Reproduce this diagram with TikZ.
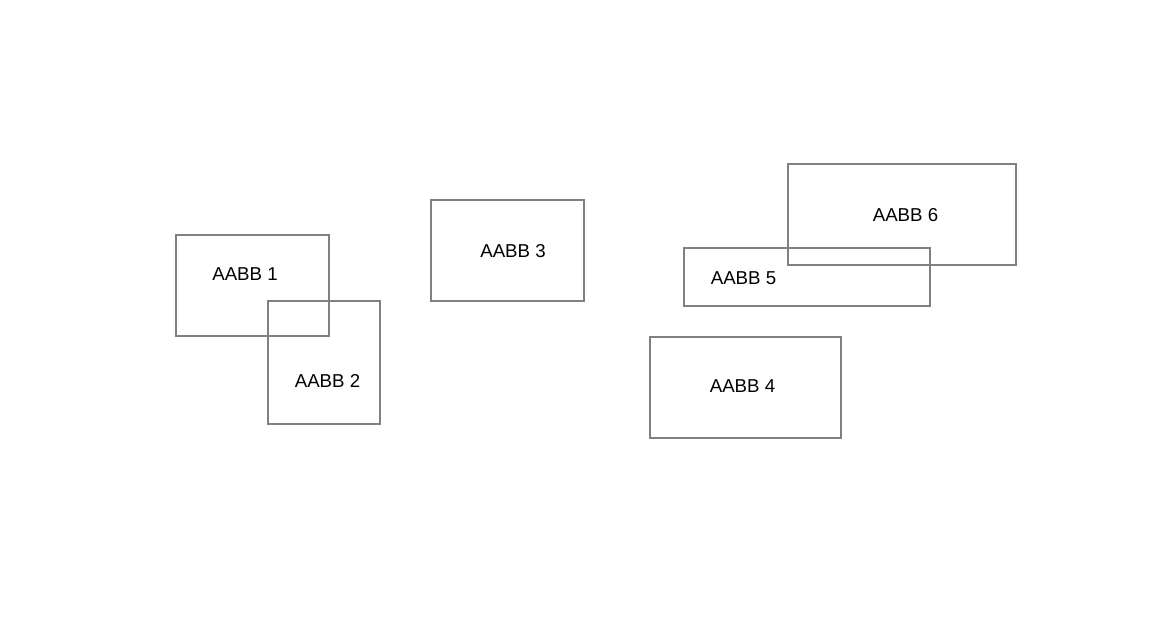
\documentclass[tikz,border=0pt]{standalone}
\usepackage{fontspec}
\setmainfont{Liberation Sans}
\usepackage{tikz}
\definecolor{boxgray}{HTML}{808080}
\tikzstyle{aabb} = [draw=boxgray, line width=1.5pt]
\tikzstyle{tag} = [inner sep=0pt, font=\fontsize{14}{16}\selectfont]

\begin{document}
\begin{tikzpicture}[x=0.75pt, y=-0.75pt]
				\useasboundingbox (0,0) rectangle (1165,630);
				% boxes
				\draw [aabb] (176,235) rectangle (329,336.5);
				\draw [aabb] (267.5,301.5) rectangle (380,424.5);
				\draw [aabb] (431,200) rectangle (584,301.5);
				\draw [aabb] (650,337) rectangle (841,438.5);
				\draw [aabb] (684,248) rectangle (930,306.5);
				\draw [aabb] (788,164) rectangle (1016,265.5);
				% labels
				\node [tag] (lbl1) at (245,274) {AABB 1};
				\node [tag] (lbl2) at (327.5,381) {AABB 2};
				\node [tag] (lbl3) at (513,251) {AABB 3};
				\node [tag] (lbl4) at (742.5,386.5) {AABB 4};
				\node [tag] (lbl5) at (743.5,278) {AABB 5};
				\node [tag] (lbl6) at (905.5,215) {AABB 6};
	\end{tikzpicture}
\end{document}
